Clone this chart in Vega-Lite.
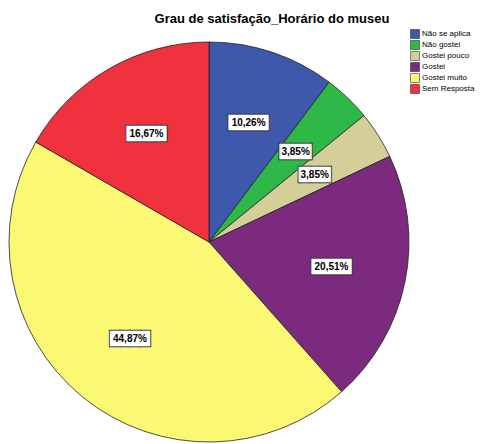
{
  "$schema": "https://vega.github.io/schema/vega-lite/v6.json",
  "autosize": {"type": "none"},
  "width": 418,
  "height": 400,
  "padding": {"left": 0, "top": 42, "right": 64, "bottom": 2},
  "background": "white",
  "title": {
    "text": "Grau de satisfação_Horário do museu",
    "font": "Liberation Sans",
    "fontSize": 13,
    "fontWeight": "bold",
    "color": "#000000",
    "anchor": "middle",
    "frame": "group",
    "dx": 63,
    "offset": 3
  },
  "config": {"view": {"stroke": null}},
  "data": {
    "values": [
      {"cat": "Não se aplica", "order": 1, "pct": 10.26, "label": "10,26%", "box": "████"},
      {"cat": "Não gostei", "order": 2, "pct": 3.85, "label": "3,85%", "box": "▕███▏"},
      {"cat": "Gostei pouco", "order": 3, "pct": 3.85, "label": "3,85%", "box": "▕███▏"},
      {"cat": "Gostei", "order": 4, "pct": 20.51, "label": "20,51%", "box": "████"},
      {"cat": "Gostei muito", "order": 5, "pct": 44.87, "label": "44,87%", "box": "████"},
      {"cat": "Sem Resposta", "order": 6, "pct": 16.67, "label": "16,67%", "box": "████"}
    ]
  },
  "encoding": {
    "theta": {"field": "pct", "type": "quantitative", "stack": true},
    "order": {"field": "order", "type": "quantitative"}
  },
  "layer": [
    {
      "mark": {"type": "arc", "radius": 200, "stroke": "#222222", "strokeWidth": 0.8},
      "encoding": {
        "color": {
          "field": "cat",
          "type": "nominal",
          "sort": ["Não se aplica", "Não gostei", "Gostei pouco", "Gostei", "Gostei muito", "Sem Resposta"],
          "scale": {
            "domain": ["Não se aplica", "Não gostei", "Gostei pouco", "Gostei", "Gostei muito", "Sem Resposta"],
            "range": ["#3E58AC", "#2EB848", "#D4CE99", "#7B2A7E", "#FBF873", "#F0313E"]
          },
          "legend": {
            "title": null,
            "orient": "none",
            "legendX": 410,
            "legendY": -13,
            "symbolType": "square",
            "symbolSize": 81,
            "symbolStrokeColor": "#333333",
            "symbolStrokeWidth": 0.6,
            "labelFont": "Liberation Sans",
            "labelFontSize": 8,
            "labelColor": "#000000",
            "labelOffset": 2,
            "rowPadding": -1.8,
            "padding": 0
          }
        }
      }
    },
    {
      "mark": {"type": "text", "radius": 125, "font": "DejaVu Sans", "fontSize": 13, "fill": "#333333", "stroke": "#333333", "strokeWidth": 2, "baseline": "middle", "align": "center"},
      "encoding": {"text": {"field": "box"}}
    },
    {
      "mark": {"type": "text", "radius": 125, "font": "DejaVu Sans", "fontSize": 13, "fill": "#FFFFFF", "baseline": "middle", "align": "center"},
      "encoding": {"text": {"field": "box"}}
    },
    {
      "mark": {"type": "text", "radius": 125, "font": "Liberation Sans", "fontSize": 10, "fontWeight": "bold", "fill": "#000000", "baseline": "middle", "align": "center"},
      "encoding": {"text": {"field": "label"}}
    }
  ]
}
